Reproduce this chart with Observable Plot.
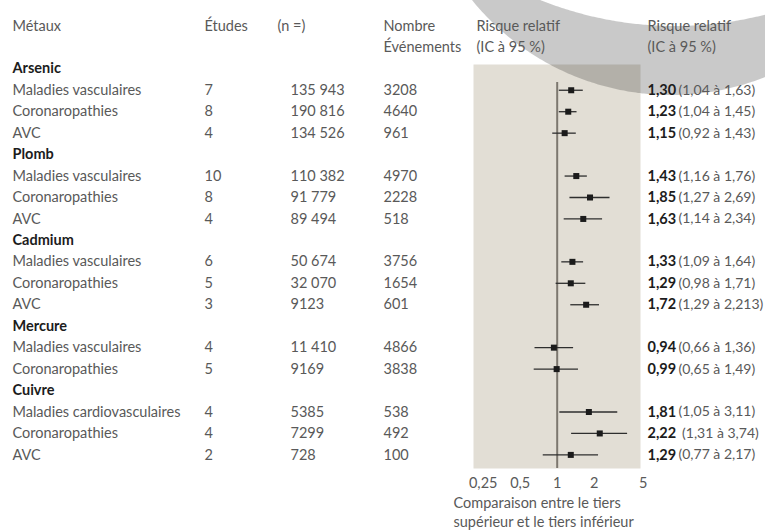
<!DOCTYPE html>
<html lang="fr">
<head>
<meta charset="utf-8">
<script src="https://cdn.jsdelivr.net/npm/d3@7"></script>
<script src="https://cdn.jsdelivr.net/npm/@observablehq/plot@0.6"></script>
<style>
  html, body { margin: 0; padding: 0; background: #fff; }
  #wrap { width: 765px; height: 532px; overflow: hidden; background: #fff; }
</style>
</head>
<body>
<div id="wrap"></div>
<script>
// ---------- data ----------
const metals = ["Arsenic", "Plomb", "Cadmium", "Mercure", "Cuivre"];
const metalOfRow = ["Arsenic","Arsenic","Arsenic","Plomb","Plomb","Plomb","Cadmium","Cadmium","Cadmium","Mercure","Mercure","Cuivre","Cuivre","Cuivre"];
const outcomes = ["Maladies vasculaires","Coronaropathies","AVC",
                  "Maladies vasculaires","Coronaropathies","AVC",
                  "Maladies vasculaires","Coronaropathies","AVC",
                  "Maladies vasculaires","Coronaropathies",
                  "Maladies cardiovasculaires","Coronaropathies","AVC"];
const studies = [7, 8, 4, 10, 8, 4, 6, 5, 3, 4, 5, 4, 4, 2];
const participants = [135943, 190816, 134526, 110382, 91779, 89494, 50674, 32070, 9123, 11410, 9169, 5385, 7299, 728];
const events = [3208, 4640, 961, 4970, 2228, 518, 3756, 1654, 601, 4866, 3838, 538, 492, 100];
const rr = [1.30, 1.23, 1.15, 1.43, 1.85, 1.63, 1.33, 1.29, 1.72, 0.94, 0.99, 1.81, 2.22, 1.29];
const ciLow = [1.04, 1.04, 0.92, 1.16, 1.27, 1.14, 1.09, 0.98, 1.29, 0.66, 0.65, 1.05, 1.31, 0.77];
const ciHigh = [1.63, 1.45, 1.43, 1.76, 2.69, 2.34, 1.64, 1.71, 2.21, 1.36, 1.49, 3.11, 3.74, 2.17];
const rrLabels = ["1,30","1,23","1,15","1,43","1,85","1,63","1,33","1,29","1,72","0,94","0,99","1,81","2,22","1,29"];
const ciLabels = ["(1,04 à 1,63)","(1,04 à 1,45)","(0,92 à 1,43)","(1,16 à 1,76)","(1,27 à 2,69)","(1,14 à 2,34)",
                  "(1,09 à 1,64)","(0,98 à 1,71)","(1,29 à 2,213)","(0,66 à 1,36)","(0,65 à 1,49)",
                  "(1,05 à 3,11)","\u00a0(1,31 à 3,74)","(0,77 à 2,17)"];
const tickValues = [0.25, 0.5, 1, 2, 5];
const tickLabels = ["0,25", "0,5", "1", "2", "5"];
const headerLine1 = ["Métaux", "Études", "(n =)", "Nombre", "Risque relatif", "Risque relatif"];
const headerLine2 = ["", "", "", "Événements", "(IC à 95 %)", "(IC à 95 %)"];
const caption = "Comparaison entre le tiers\nsupérieur et le tiers inférieur";

// ---------- build table ----------
const fmtN = n => n >= 10000 ? String(n).replace(/(\d)(\d{3})$/, "$1\u00a0$2") : String(n);
const groupRows = [];
const dataRows = [];
let r = 0;
for (const m of metals) {
  groupRows.push({row: r++, label: m});
  metalOfRow.forEach((mm, i) => {
    if (mm !== m) return;
    dataRows.push({
      row: r++, outcome: outcomes[i], studies: String(studies[i]), n: fmtN(participants[i]),
      events: String(events[i]), rr: rr[i], lo: ciLow[i], hi: ciHigh[i],
      rrLabel: rrLabels[i], ciLabel: ciLabels[i]
    });
  });
}
const nRows = r;

// ---------- layout (styling) ----------
const panelLeft = 473, panelRight = 640;
const colX = [12, 204, 277, 383, 476, 647]; // header columns
const col = {name: 12, studies: 204, n: 290, events: 383, rr: 647, ci: 678};
const ink = "#595959";
const dark = "#1c1c1c";
const fs = "14.5px";

const left = x => x - panelLeft;
const headers = [];
headerLine1.forEach((t, i) => headers.push({row: -2, text: t, x: colX[i]}));
headerLine2.forEach((t, i) => { if (t) headers.push({row: -1, text: t, x: colX[i]}); });

const plot = Plot.plot({
  width: 765,
  height: 532,
  marginLeft: panelLeft,
  marginRight: 765 - panelRight,
  marginTop: 64,
  marginBottom: 64,
  x: {type: "log", domain: [0.25, 5], range: [482.7, 642.6]},
  y: {domain: [0, nRows - 1], range: [68.3, 454.4], axis: null},
  style: {fontFamily: "Lato, 'Open Sans', sans-serif", fontSize: fs, fontWeight: 400, color: ink, background: "#fff", overflow: "hidden"},
  marks: [
    Plot.frame({fill: "#e2ded5", stroke: null}),
    Plot.ruleX([1], {stroke: "#7c776f", strokeWidth: 2, insetTop: 18}),
    Plot.ruleY(dataRows, {y: "row", x1: "lo", x2: "hi", stroke: "#2e2e2e", strokeWidth: 1.3}),
    Plot.dot(dataRows, {x: "rr", y: "row", symbol: "square", r: 3.4, fill: "#1b1b1b", stroke: null}),
    Plot.axisX({ticks: tickValues, tickSize: 0, tickPadding: 9, tickFormat: d => tickLabels[tickValues.indexOf(d)], label: null, fill: ink, fontSize: fs}),
    // column headers
    ...headers.map(h => Plot.text([h], {y: "row", text: "text", frameAnchor: "left", dx: left(h.x), textAnchor: "start", fill: ink})),
    // group labels
    Plot.text(groupRows, {y: "row", text: "label", frameAnchor: "left", dx: left(col.name), textAnchor: "start", fill: dark, fontWeight: "bold"}),
    // table columns
    Plot.text(dataRows, {y: "row", text: "outcome", frameAnchor: "left", dx: left(col.name), textAnchor: "start", fill: ink}),
    Plot.text(dataRows, {y: "row", text: "studies", frameAnchor: "left", dx: left(col.studies), textAnchor: "start", fill: ink}),
    Plot.text(dataRows, {y: "row", text: "n", frameAnchor: "left", dx: left(col.n), textAnchor: "start", fill: ink}),
    Plot.text(dataRows, {y: "row", text: "events", frameAnchor: "left", dx: left(col.events), textAnchor: "start", fill: ink}),
    Plot.text(dataRows, {y: "row", text: "rrLabel", frameAnchor: "left", dx: left(col.rr), textAnchor: "start", fill: dark, fontWeight: "bold"}),
    Plot.text(dataRows, {y: "row", text: "ciLabel", frameAnchor: "left", dx: left(col.ci), textAnchor: "start", fill: ink, fontSize: 14}),
    // caption under the axis
    Plot.text([caption], {text: d => d, frameAnchor: "bottom-left", lineAnchor: "top", dx: -20, dy: 26, lineHeight: 1.33, textAnchor: "start", fill: ink})
  ]
});
document.getElementById("wrap").appendChild(plot);

// decorative grey arc band (not data): region inside the outer circle and outside the inner one
const outer = {cx: 671, cy: -161, r: 256};
const inner = {cx: 675, cy: -336, r: 362};
const lowY = (c, x) => { const d = c.r * c.r - (x - c.cx) * (x - c.cx); return d >= 0 ? c.cy + Math.sqrt(d) : NaN; };
const lower = [], upper = [];
for (let x = 466; x <= 790; x += 2) {
  const lo = lowY(outer, x);
  if (!(lo > -10)) continue;
  let up = lowY(inner, x);
  if (!(up > -10)) up = -10;
  up = Math.min(up, lo);
  lower.push([x, lo]);
  upper.push([x, up]);
}
const pts = lower.concat(upper.reverse());
const ns = "http://www.w3.org/2000/svg";
const band = document.createElementNS(ns, "path");
band.setAttribute("d", "M" + pts.map(p => p[0].toFixed(1) + "," + p[1].toFixed(1)).join("L") + "Z");
band.setAttribute("fill", "rgb(30,30,30)");
band.setAttribute("fill-opacity", "0.24");
const frameEl = plot.querySelector('[aria-label="frame"]');
if (frameEl) frameEl.after(band); else plot.appendChild(band);
</script>
</body>
</html>
